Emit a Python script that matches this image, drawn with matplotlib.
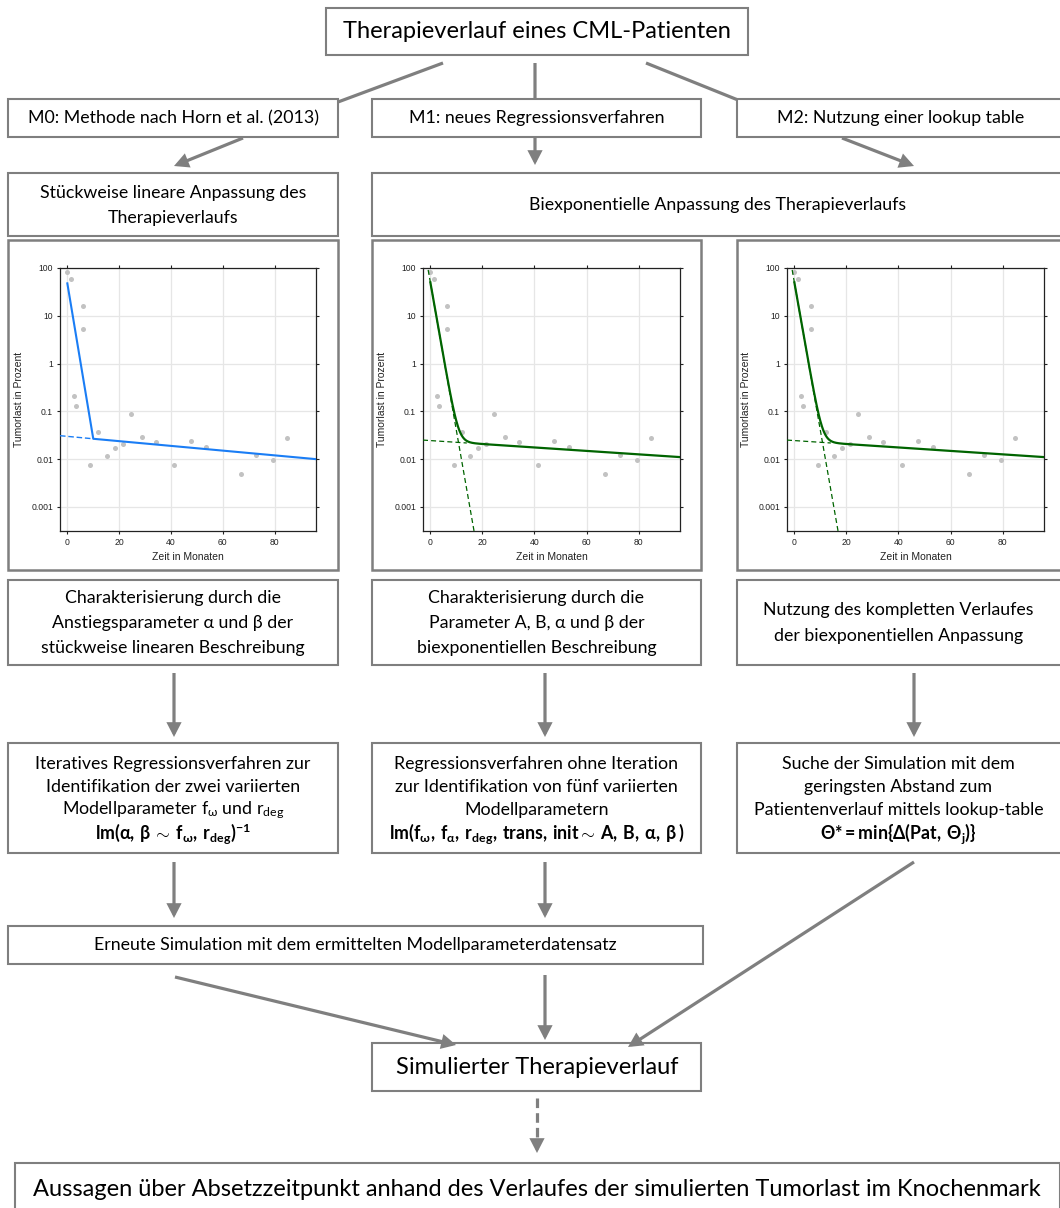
import numpy as np
import matplotlib
matplotlib.use("Agg")
import matplotlib.pyplot as plt
from matplotlib.patches import Rectangle, FancyArrowPatch, ArrowStyle
from matplotlib.ticker import NullLocator, FixedLocator, FixedFormatter

# ---------------- data ----------------
months = [0, 1.4, 2.4, 3.3, 6.2, 6.2, 8.9, 12.0, 15.3, 18.4, 21.5, 24.6,
          28.7, 34.2, 41.3, 47.6, 53.4, 66.9, 72.9, 79.2, 84.8]
tumor = [81, 57.8, 0.206, 0.131, 16, 5.4, 0.0076, 0.0374, 0.0117, 0.0173,
         0.0203, 0.089, 0.0294, 0.0224, 0.0076, 0.0243, 0.0176, 0.0049,
         0.0125, 0.0097, 0.028]

# piecewise linear fit (M0)
m0_fit_months = [0, 10, 96]
m0_fit_tumor = [47.7, 0.0267, 0.0100]
m0_ext_months = [-2.83, 10]
m0_ext_tumor = [0.031, 0.0267]

# biexponential fit (M1, M2): A, alpha, B, beta
biexp_params = [50.0, 0.714, 0.0245, 0.0083]

xtick_vals = [0, 20, 40, 60, 80]
ytick_vals = [0.001, 0.01, 0.1, 1, 10, 100]
ytick_labels = ["0.001", "0.01", "0.1", "1", "10", "100"]

title_text = "Therapieverlauf eines CML-Patienten"
method_labels = ["M0: Methode nach Horn et al. (2013)",
                 "M1: neues Regressionsverfahren",
                 "M2: Nutzung einer lookup table"]
fit_left_lines = ["Stückweise lineare Anpassung des", "Therapieverlaufs"]
fit_right_text = "Biexponentielle Anpassung des Therapieverlaufs"
char_lines = [["Charakterisierung durch die",
               "Anstiegsparameter α und β der",
               "stückweise linearen Beschreibung"],
              ["Charakterisierung durch die",
               "Parameter A, B, α und β der",
               "biexponentiellen Beschreibung"],
              ["Nutzung des kompletten Verlaufes",
               "der biexponentiellen Anpassung"]]
reg_lines = [["Iteratives Regressionsverfahren zur",
              "Identifikation der zwei variierten",
              r"Modellparameter f$_{ω}$ und r$_{deg}$",
              r"$\mathbf{lm(α,\:β\:{\sim}\:f_{ω},\:r_{deg})^{-1}}$"],
             ["Regressionsverfahren ohne Iteration",
              "zur Identifikation von fünf variierten",
              "Modellparametern",
              r"$\mathbf{lm(f_{ω},\:f_{α},\:r_{deg},\:trans,\:init{\sim}\:A,\:B,\:α,\:β\:)}$"],
             ["Suche der Simulation mit dem",
              "geringsten Abstand zum",
              "Patientenverlauf mittels lookup-table",
              r"$\mathbf{Θ{*}=min\{Δ(Pat,\:Θ_{j})\}}$"]]
resim_text = "Erneute Simulation mit dem ermittelten Modellparameterdatensatz"
sim_text = "Simulierter Therapieverlauf"
final_text = "Aussagen über Absetzzeitpunkt anhand des Verlaufes der simulierten Tumorlast im Knochenmark"

# ---------------- style ----------------
FONT = ["Lato", "Noto Sans", "DejaVu Sans"]
plt.rcParams["font.family"] = FONT
plt.rcParams["mathtext.fontset"] = "custom"
plt.rcParams["mathtext.rm"] = "Lato"
plt.rcParams["mathtext.it"] = "Lato:italic"
plt.rcParams["mathtext.bf"] = "Lato:bold"
plt.rcParams["mathtext.default"] = "regular"
PLOTFONT = "Liberation Sans"
GRAY = "#7f7f7f"

W, H = 1060, 1208
fig = plt.figure(figsize=(W / 100, H / 100), dpi=100)
bg = fig.add_axes([0, 0, 1, 1])
bg.set_xlim(0, W)
bg.set_ylim(H, 0)
bg.axis("off")
renderer = fig.canvas.get_renderer()


def fit_size(text, target_px, **kw):
    t = fig.text(0, 0, text, fontsize=10, **kw)
    w = t.get_window_extent(renderer).width
    t.remove()
    return 10 * target_px / w


BIG = fit_size(title_text, 388)
BODY = fit_size(method_labels[1], 256)


def box(x0, y0, x1, y1, lw=1.5):
    bg.add_patch(Rectangle((x0, y0), x1 - x0, y1 - y0, fill=True, fc="white",
                           ec=GRAY, lw=lw, clip_on=False, zorder=1))


def txt(x, y, s, size=None, **kw):
    bg.text(x, y, s, ha="center", va="center", fontsize=size or BODY,
            color="black", zorder=5, **kw)


def arrow(x0, y0, x1, y1, head=True):
    style = ArrowStyle("-|>", head_length=7, head_width=3.6) if head else ArrowStyle("-")
    bg.add_patch(FancyArrowPatch((x0, y0), (x1, y1), arrowstyle=style,
                                 mutation_scale=1, lw=2.3, color=GRAY,
                                 shrinkA=0, shrinkB=0, joinstyle="miter",
                                 capstyle="butt", zorder=3))


# title
box(326, 8, 748, 55)
txt(537, 31, title_text, BIG)
arrow(443, 63, 338, 102, head=False)
arrow(535, 63, 535, 99, head=False)
arrow(646, 63, 738, 100, head=False)

# method boxes
cols = [(8, 338), (372, 701), (737, 1063)]
for (a, b), lab in zip(cols, method_labels):
    box(a, 99, b, 137)
    txt((a + b) / 2 if b < 1060 else (a + 1060) / 2 + 2, 118, lab)
arrow(243, 138, 174, 166)
arrow(535, 138, 535, 165)
arrow(842, 138, 914, 166)

# fit boxes
box(8, 173, 338, 236)
txt(173, 193, fit_left_lines[0])
txt(173, 218, fit_left_lines[1])
box(372, 173, 1063, 236)
txt(718, 205, fit_right_text)

# plot panels
for a, b in cols:
    box(a, 240, b, 570, lw=1.8)


def make_axes(x0, x1, y0=268, y1=531):
    return fig.add_axes([x0 / W, 1 - y1 / H, (x1 - x0) / W, (y1 - y0) / H])


def style_axes(ax):
    ax.set_yscale("log")
    ax.set_xlim(-2.83, 95.9)
    ax.set_ylim(10 ** -3.503, 100)
    ax.xaxis.set_major_locator(FixedLocator(xtick_vals))
    ax.yaxis.set_major_locator(FixedLocator(ytick_vals))
    ax.yaxis.set_major_formatter(FixedFormatter(ytick_labels))
    ax.yaxis.set_minor_locator(NullLocator())
    ax.xaxis.set_minor_locator(NullLocator())
    ax.grid(True, color="#e6e6e6", lw=0.9)
    ax.set_axisbelow(True)
    ax.tick_params(direction="out", length=2.5, width=0.8, top=True, right=True,
                   labelsize=6.2, pad=2.5, colors="#222222", labelcolor="#222222")
    for lab in ax.get_xticklabels() + ax.get_yticklabels():
        lab.set_family(PLOTFONT)
    for sp in ax.spines.values():
        sp.set_color("#222222")
        sp.set_linewidth(0.9)
    ax.set_xlabel("Zeit in Monaten", fontsize=7.5, family=PLOTFONT, labelpad=4,
                  color="#222222")
    ax.set_ylabel("Tumorlast in Prozent", fontsize=7.5, family=PLOTFONT,
                  labelpad=5, color="#222222")
    ax.scatter(months, tumor, s=13, color="#c2c2c2", lw=0, zorder=2)


# left plot (M0)
ax0 = make_axes(60, 316)
style_axes(ax0)
ax0.plot(m0_fit_months, m0_fit_tumor, color="#1a7df5", lw=1.5, zorder=3)
ax0.plot(m0_ext_months, m0_ext_tumor, color="#1a7df5", lw=1.0, ls=(0, (4, 2)), zorder=3)

A, alpha, B, beta = biexp_params
t_full = np.linspace(-3, 96, 600)
t_fit = np.linspace(0, 96, 600)
t_ext = np.linspace(-2.83, 14, 100)
for x0, x1 in [(423, 680), (787, 1044)]:
    ax = make_axes(x0, x1)
    style_axes(ax)
    ax.plot(t_full, A * np.exp(-alpha * t_full), color="#006400", lw=0.9,
            ls=(0, (4, 2.5)), zorder=3)
    ax.plot(t_ext, B * np.exp(-beta * t_ext), color="#006400", lw=0.9,
            ls=(0, (4, 2.5)), zorder=3)
    ax.plot(t_fit, A * np.exp(-alpha * t_fit) + B * np.exp(-beta * t_fit),
            color="#006400", lw=1.6, zorder=4)

# characterisation boxes
for (a, b), lines in zip(cols, char_lines):
    box(a, 580, b, 665)
    cx = (a + b) / 2 if b < 1060 else (a + 1060) / 2
    if len(lines) == 3:
        ys = [598, 623, 648]
    else:
        ys = [610, 636]
    for y, s in zip(ys, lines):
        txt(cx, y, s)

arrow(174, 673, 174, 737)
arrow(545, 673, 545, 737)
arrow(914, 673, 914, 737)

# regression boxes
for (a, b), lines in zip(cols, reg_lines):
    box(a, 743, b, 853)
    cx = (a + b) / 2 if b < 1060 else (a + 1060) / 2
    for y, s in zip([764, 787, 810, 834], lines):
        txt(cx, y, s)

arrow(174, 862, 174, 918)
arrow(545, 862, 545, 918)
arrow(914, 862, 628, 1047)

# re-simulation box
box(8, 926, 703, 964)
txt(355, 945, resim_text)
arrow(175, 977, 456, 1045)
arrow(545, 975, 545, 1040)

# simulated course
box(372, 1043, 701, 1091)
txt(537, 1067, sim_text, BIG)

# dashed arrow
bg.plot([537, 537], [1098, 1142], color=GRAY, lw=2.3, dashes=[3.0, 1.6],
        solid_capstyle="butt", dash_capstyle="butt")
arrow(537, 1140, 537, 1153)

# final box
box(15, 1163, 1060, 1225)
txt(537, 1189, final_text, BIG)

fig.savefig("out.png", dpi=100)
